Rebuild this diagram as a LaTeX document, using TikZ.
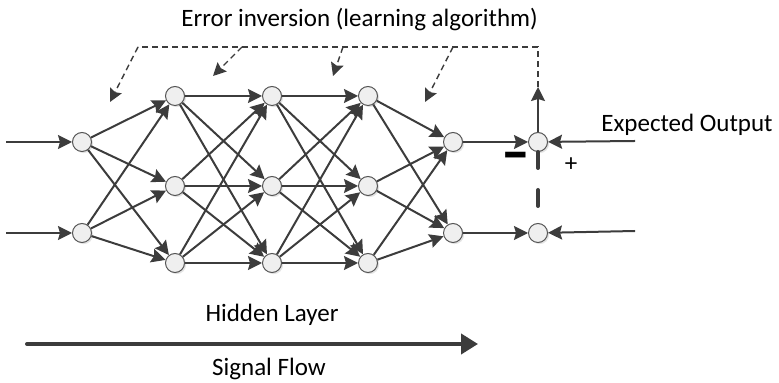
\documentclass[tikz,border=0pt]{standalone}
\usepackage{fontspec}
\setmainfont{Carlito}
\usetikzlibrary{arrows.meta,shadows}
\definecolor{edge}{HTML}{3C3C3C}
\definecolor{nfill}{HTML}{EFEFEF}
\definecolor{nborder}{HTML}{555555}
\begin{document}
\begin{tikzpicture}[x=0.5pt,y=-0.5pt,
  neuron/.style={circle,draw=nborder,fill=nfill,line width=0.5pt,minimum size=9.5pt,inner sep=0pt,
    drop shadow={shadow xshift=0.8pt,shadow yshift=-0.8pt,fill=black!22}},
  conn/.style={draw=edge,line width=1pt,-{Stealth[length=7pt,width=7pt,inset=1pt]}},
  fb/.style={draw=edge,line width=0.7pt,dash pattern=on 3pt off 2pt},
  fbarr/.style={fb,-{Stealth[length=6.5pt,width=6.5pt,inset=1pt]}},
  thickdash/.style={draw=edge,line width=2pt,line cap=round,dash pattern=on 8pt off 11pt},
  flow/.style={draw=edge,line width=2pt,line cap=round,-{Triangle[length=8.5pt,width=10pt]}},
  lbl/.style={font=\fontsize{12.5}{14}\selectfont,text=black,inner sep=0pt}
]
\useasboundingbox (0,0) rectangle (779,383);
% nodes
\node[neuron] (I1) at (82,142) {};
\node[neuron] (I2) at (82,233) {};
\node[neuron] (A1) at (175,96) {};
\node[neuron] (A2) at (175,186) {};
\node[neuron] (A3) at (175,263) {};
\node[neuron] (B1) at (272,96) {};
\node[neuron] (B2) at (272,186) {};
\node[neuron] (B3) at (272,263) {};
\node[neuron] (C1) at (368,96) {};
\node[neuron] (C2) at (368,186) {};
\node[neuron] (C3) at (368,263) {};
\node[neuron] (O1) at (453,142) {};
\node[neuron] (O2) at (453,233) {};
\node[neuron] (S1) at (538,142) {};
\node[neuron] (S2) at (538,233) {};
% free ends
\coordinate (in1) at (6,142);
\coordinate (in2) at (6,233);
\coordinate (ex1) at (635,141);
\coordinate (ex2) at (635,231);
% connections
\draw[conn] (in1) -- (I1);
\draw[conn] (in2) -- (I2);
\foreach \s in {I1,I2} \foreach \t in {A1,A2,A3} \draw[conn] (\s) -- (\t);
\foreach \s in {A1,A2,A3} \foreach \t in {B1,B2,B3} \draw[conn] (\s) -- (\t);
\foreach \s in {B1,B2,B3} \foreach \t in {C1,C2,C3} \draw[conn] (\s) -- (\t);
\foreach \s in {C1,C2,C3} \foreach \t in {O1,O2} \draw[conn] (\s) -- (\t);
\draw[conn] (O1) -- (S1);
\draw[conn] (O2) -- (S2);
\draw[conn] (ex1) -- (S1);
\draw[conn] (ex2) -- (S2);
% feedback
\coordinate (up) at (538,87);
\coordinate (tr) at (538,47);
\coordinate (tl) at (138,47);
\coordinate (f2) at (242,47);
\coordinate (f3) at (343,47);
\coordinate (f4) at (453,47);
\coordinate (t1) at (110,102);
\coordinate (t2) at (213,76);
\coordinate (t3) at (333,76);
\coordinate (t4) at (425,102);
\draw[conn] (S1) -- (up);
\draw[fb] (up) -- (tr) -- (tl);
\draw[fbarr] (tl) -- (t1);
\draw[fbarr] (f2) -- (t2);
\draw[fbarr] (f3) -- (t3);
\draw[fbarr] (f4) -- (t4);
\draw[thickdash] (S1.south) -- (S2.north);
% signal flow
\coordinate (sf1) at (27,344);
\coordinate (sf2) at (478,344);
\draw[flow] (sf1) -- (sf2);
% labels
\node[lbl,anchor=base west] (err) at (181,27) {Error inversion (learning algorithm)};
\node[lbl,anchor=base west] (exp) at (601,132) {Expected Output};
\node[lbl,anchor=base] (hid) at (272,322) {Hidden Layer};
\node[lbl,anchor=base] (sig) at (269,376) {Signal Flow};
\node[lbl] (minus) at (516,163) {\scalebox{2.3}[2.6]{\bfseries –}};
\node[lbl] (plus) at (571,165) {+};
\end{tikzpicture}
\end{document}
